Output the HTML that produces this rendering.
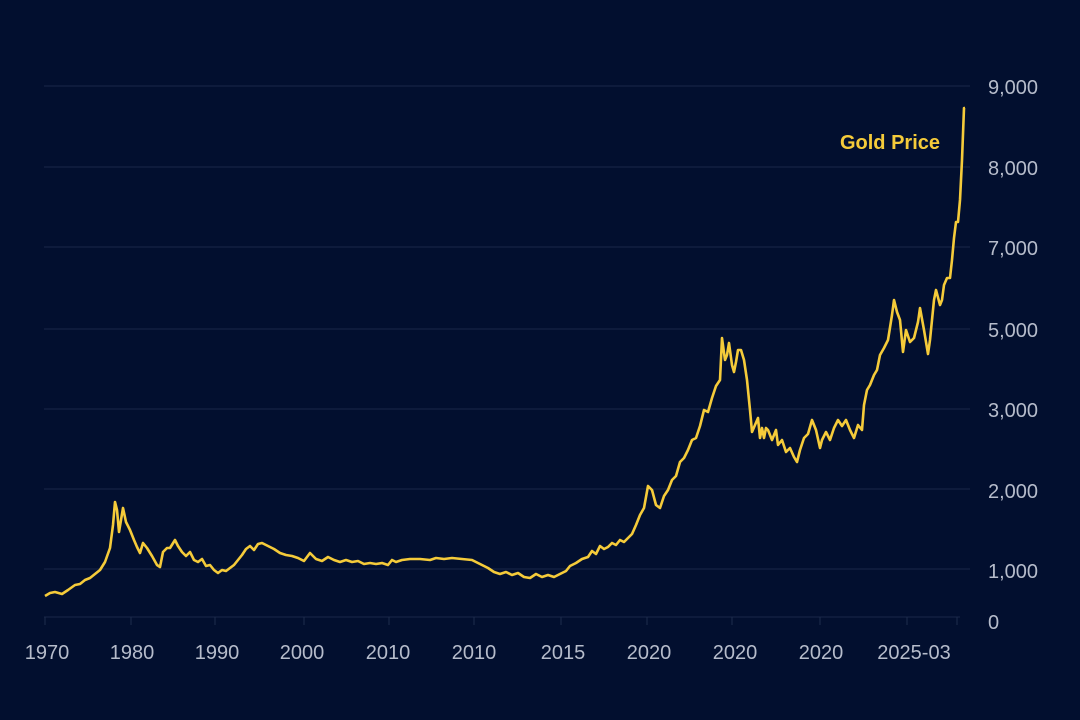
<!DOCTYPE html>
<html><head><meta charset="utf-8"><style>
html,body{margin:0;padding:0;background:#020f2f;}
svg{display:block;}
text{font-family:"Liberation Sans",sans-serif;}
</style></head><body>
<svg width="1080" height="720" viewBox="0 0 1080 720">
<rect width="1080" height="720" fill="#020f2f"/>
<g stroke="#1a2748" stroke-width="1">
<line x1="44" y1="86" x2="970" y2="86"/>
<line x1="44" y1="167" x2="970" y2="167"/>
<line x1="44" y1="247" x2="970" y2="247"/>
<line x1="44" y1="329" x2="970" y2="329"/>
<line x1="44" y1="409" x2="970" y2="409"/>
<line x1="44" y1="489" x2="970" y2="489"/>
<line x1="44" y1="569" x2="970" y2="569"/>
<line x1="44" y1="617" x2="960" y2="617"/>
</g>
<g stroke="#1f2c4c" stroke-width="1">
<line x1="45" y1="617" x2="45" y2="625"/><line x1="131" y1="617" x2="131" y2="625"/>
<line x1="215" y1="617" x2="215" y2="625"/><line x1="304" y1="617" x2="304" y2="625"/>
<line x1="389" y1="617" x2="389" y2="625"/><line x1="474" y1="617" x2="474" y2="625"/>
<line x1="561" y1="617" x2="561" y2="625"/><line x1="647" y1="617" x2="647" y2="625"/>
<line x1="732" y1="617" x2="732" y2="625"/><line x1="820" y1="617" x2="820" y2="625"/>
<line x1="907" y1="617" x2="907" y2="625"/><line x1="957" y1="617" x2="957" y2="625"/>
</g>
<g fill="#b6bccb" font-size="20" text-anchor="start">
<text x="988" y="94">9,000</text>
<text x="988" y="175">8,000</text>
<text x="988" y="255">7,000</text>
<text x="988" y="337">5,000</text>
<text x="988" y="417">3,000</text>
<text x="988" y="498">2,000</text>
<text x="988" y="578">1,000</text>
<text x="988" y="629">0</text>
</g>
<g fill="#b6bccb" font-size="20" text-anchor="middle">
<text x="47" y="659">1970</text><text x="132" y="659">1980</text>
<text x="217" y="659">1990</text><text x="302" y="659">2000</text>
<text x="388" y="659">2010</text><text x="474" y="659">2010</text>
<text x="563" y="659">2015</text><text x="649" y="659">2020</text>
<text x="735" y="659">2020</text><text x="821" y="659">2020</text>
<text x="914" y="659">2025-03</text>
</g>
<text x="940" y="149" fill="#f5cb3a" font-size="20" font-weight="bold" text-anchor="end">Gold Price</text>
<polyline fill="none" stroke="#f5cb3a" stroke-width="2.6" stroke-linejoin="round" points="45,596 50,593 55,592 62,594 68,590 75,585 80,584 85,580 90,578 95,574 100,570 105,562 110,548 113,525 115,502 117,510 119,532 121,520 123,508 126,522 130,530 134,540 137,547 140,553 143,543 147,548 152,556 157,565 160,567 163,552 167,548 170,548 175,540 178,546 182,552 186,556 190,552 194,560 198,562 202,559 206,566 210,565 214,570 218,573 222,570 226,571 230,568 234,565 238,560 242,555 246,549 250,546 254,550 258,544 262,543 268,546 274,549 280,553 286,555 292,556 298,558 304,561 310,553 316,559 322,561 328,557 334,560 340,562 346,560 352,562 358,561 364,564 370,563 376,564 382,563 388,565 392,560 396,562 402,560 410,559 420,559 430,560 436,558 444,559 452,558 462,559 472,560 480,564 488,568 494,572 500,574 506,572 512,575 518,573 524,577 530,578 536,574 542,577 548,575 554,577 560,574 566,571 570,566 576,563 582,559 588,557 592,551 596,554 600,546 604,549 608,547 612,543 616,545 620,540 624,542 628,538 632,534 636,525 640,515 644,508 648,486 652,490 656,505 660,508 664,496 668,490 672,480 676,476 680,462 684,458 688,450 692,440 696,438 700,426 704,410 708,412 712,398 716,386 720,380 722,338 725,360 727,355 729,343 732,365 734,372 736,362 738,350 741,350 744,360 747,380 750,410 752,432 755,425 758,418 760,438 762,428 764,438 766,428 768,430 772,440 776,430 778,445 782,440 786,452 790,448 794,457 797,462 800,450 804,438 808,434 812,420 816,430 820,448 822,440 826,432 830,440 834,428 838,420 842,426 846,420 850,430 854,438 858,425 862,430 864,405 867,390 870,385 874,375 877,370 880,355 884,348 888,340 892,315 894,300 897,312 900,320 903,352 906,330 910,342 914,338 918,322 920,308 924,330 928,354 930,340 934,300 936,290 940,305 942,300 944,285 947,278 950,278 952,260 954,238 956,222 958,222 960,200 962,160 964,108 965,108"/>
</svg>
</body></html>
